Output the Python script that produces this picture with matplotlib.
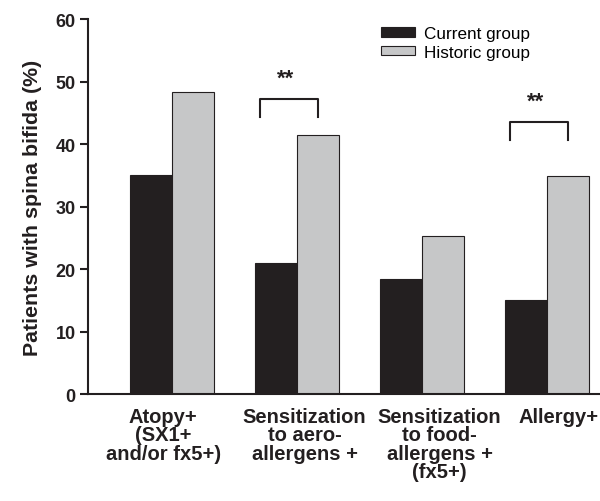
import matplotlib.pyplot as plt
import matplotlib.transforms as mtransforms
import numpy as np

plt.rcParams['font.family'] = ['Liberation Sans', 'DejaVu Sans']

# Data
categories = ['Atopy+\n(SX1+\nand/or fx5+)', 'Sensitization\nto aero-\nallergens +',
              'Sensitization\nto food-\nallergens +\n(fx5+)', 'Allergy+']
current = [35.0, 20.9, 18.4, 15.0]
historic = [48.3, 41.5, 25.3, 34.9]
sig_groups = [1, 3]        # groups marked with **
sig_levels = [47.2, 43.5]  # bracket heights (%)

fig = plt.figure(figsize=(6, 5.02), dpi=100)
ax = fig.add_axes([0.1467, 0.213, 0.89, 0.747])

x = np.arange(len(categories))
w = 0.336
ax.bar(x - w / 2, current, w, color='#231f20', edgecolor='#231f20', linewidth=0.8, label='Current group')
ax.bar(x + w / 2, historic, w, color='#c6c7c8', edgecolor='#231f20', linewidth=0.8, label='Historic group')

# significance brackets
for g, top in zip(sig_groups, sig_levels):
    ax.plot([g - 0.30, g - 0.30, g + 0.17, g + 0.17], [top - 2.8, top, top, top - 2.8],
            color='#231f20', linewidth=1.5)
    ax.text(g - 0.09, top + 3.4, '**', ha='center', va='center', fontsize=16, fontweight='bold',
            color='#231f20')

ax.set_xlim(-0.672, 3.6)
ax.set_ylim(0, 60)
ax.set_yticks(range(0, 61, 10))
ax.set_xticks([])
ax.tick_params(axis='y', direction='out', length=6, width=1.5, labelsize=13, pad=3,
               labelcolor='#231f20', color='#231f20')
for lab in ax.get_yticklabels():
    lab.set_fontweight('bold')

# category labels (hand-nudged like the original)
label_shift = [-0.07, 0.06, 0.14, 0.09]
trans = mtransforms.blended_transform_factory(ax.transData, ax.transAxes)
for xi, name, dx in zip(x, categories, label_shift):
    ax.text(xi + dx, -0.035, name, transform=trans, ha='center', va='top', multialignment='center',
            fontsize=14.5, fontweight='bold', color='#231f20', linespacing=0.95)

ax.set_ylabel('Patients with spina bifida (%)', fontsize=15.4, fontweight='bold', labelpad=10,
              color='#231f20')
ax.spines['top'].set_visible(False)
ax.spines['right'].set_visible(False)
ax.spines['left'].set_linewidth(1.5)
ax.spines['bottom'].set_linewidth(1.5)
ax.spines['left'].set_color('#231f20')
ax.spines['bottom'].set_color('#231f20')

ax.legend(loc='upper left', bbox_to_anchor=(0.52, 1.022), frameon=False, fontsize=12.3,
          handlelength=2.0, handleheight=0.5, handletextpad=0.5, labelspacing=0.2)

plt.savefig('out.png', dpi=100)
